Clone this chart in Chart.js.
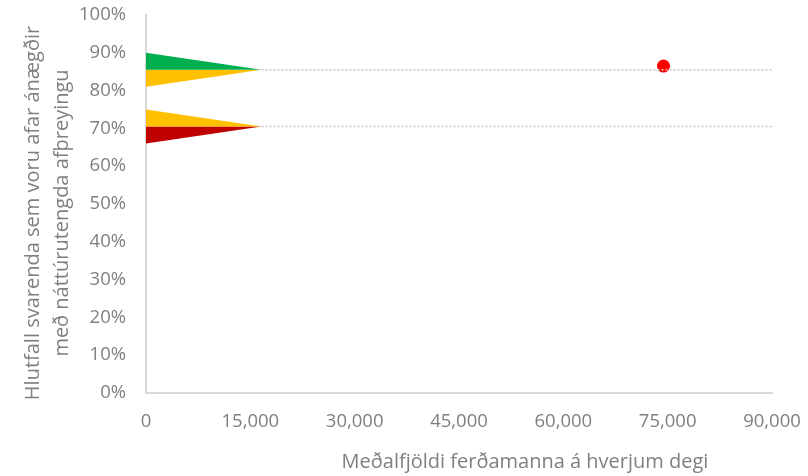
<!DOCTYPE html>
<html>
<head>
<meta charset="utf-8">
<script src="https://cdn.jsdelivr.net/npm/chart.js@4"></script>
<style>
  body { margin: 0; background: #fff; }
  #wrap { width: 808px; height: 476px; }
</style>
</head>
<body>
<div id="wrap"><canvas id="chart"></canvas></div>
<script>
// gildi lesin af myndinni
const bandTopPct = [90, 75];
const bandMidPct = [85.5, 70.5];
const bandLowPct = [81, 66];
const bandTipX = 16600;
const upperColors = ["#00b050", "#ffc000"];
const lowerColors = ["#ffc000", "#c00000"];

const visitorsPerDay = [74400];
const satisfiedPct = [86.5];

const xMax = 90000;
const xStep = 15000;
const yStep = 10;

const xTitle = "Meðalfjöldi ferðamanna á hverjum degi";
const yTitle = ["Hlutfall svarenda sem voru afar ánægðir", "með náttúrutengda afþreyingu"];

const gray = "#7f7f7f";
const font = '"Open Sans", sans-serif';

// byggja gagnasöfn fyrir þríhyrningana
var datasets = [];
bandMidPct.forEach(function (mid, i) {
  var midIndex = datasets.length + 1;
  datasets.push({
    data: [{ x: 0, y: bandTopPct[i] }, { x: bandTipX, y: mid }],
    borderWidth: 0,
    pointRadius: 0,
    backgroundColor: upperColors[i],
    fill: { target: midIndex },
  });
  datasets.push({
    data: [{ x: 0, y: mid }, { x: bandTipX, y: mid }],
    borderWidth: 0,
    pointRadius: 0,
    fill: false,
  });
  datasets.push({
    data: [{ x: 0, y: bandLowPct[i] }, { x: bandTipX, y: mid }],
    borderWidth: 0,
    pointRadius: 0,
    backgroundColor: lowerColors[i],
    fill: { target: midIndex },
  });
  // punktalína út að enda ássins
  datasets.push({
    data: [{ x: bandTipX, y: mid }, { x: xMax, y: mid }],
    borderColor: "#c8c8c8",
    borderWidth: 1.5,
    borderDash: [2, 2],
    pointRadius: 0,
    fill: false,
  });
});

datasets.push({
  type: "scatter",
  data: visitorsPerDay.map((v, i) => ({ x: v, y: satisfiedPct[i] })),
  backgroundColor: "#ff0000",
  borderWidth: 0,
  pointRadius: 6.5,
});

const titlesPlugin = {
  id: "titles",
  afterDraw(chart) {
    var ctx = chart.ctx;
    ctx.save();
    ctx.fillStyle = gray;
    ctx.font = "20px " + font;
    ctx.textAlign = "center";
    ctx.textBaseline = "middle";
    ctx.fillText(xTitle, 525, 462);
    ctx.textBaseline = "alphabetic";
    [39, 68].forEach(function (x, i) {
      ctx.save();
      ctx.translate(x, 213);
      ctx.rotate(-Math.PI / 2);
      ctx.fillText(yTitle[i], 0, 0);
      ctx.restore();
    });
    ctx.restore();
  },
};

new Chart(document.getElementById("chart"), {
  type: "line",
  data: { datasets: datasets },
  plugins: [titlesPlugin],
  options: {
    responsive: true,
    maintainAspectRatio: false,
    animation: false,
    layout: { padding: { top: 15, right: 36, left: 0, bottom: 0 } },
    plugins: { legend: { display: false }, tooltip: { enabled: false } },
    elements: { line: { tension: 0 } },
    scales: {
      x: {
        type: "linear",
        min: 0,
        max: xMax,
        grid: { display: false, drawTicks: false },
        border: { display: true, color: "#d9d9d9", width: 2 },
        ticks: {
          stepSize: xStep,
          autoSkip: false,
          maxRotation: 0,
          padding: 18,
          color: gray,
          font: { family: font, size: 18.5 },
          callback: (v) => v.toLocaleString("en-US"),
        },
        afterFit: (s) => {
          s.height = 83;
          s.paddingLeft = 0;
          s.paddingRight = 0;
        },
      },
      y: {
        min: 0,
        max: 100,
        grid: { display: false, drawTicks: false },
        border: { display: true, color: "#d9d9d9", width: 2 },
        ticks: {
          stepSize: yStep,
          padding: 20,
          color: gray,
          font: { family: font, size: 18.5 },
          callback: (v) => v + "%",
        },
        afterFit: (s) => {
          s.width = 146;
          s.paddingTop = 0;
          s.paddingBottom = 0;
        },
      },
    },
  },
});
</script>
</body>
</html>
